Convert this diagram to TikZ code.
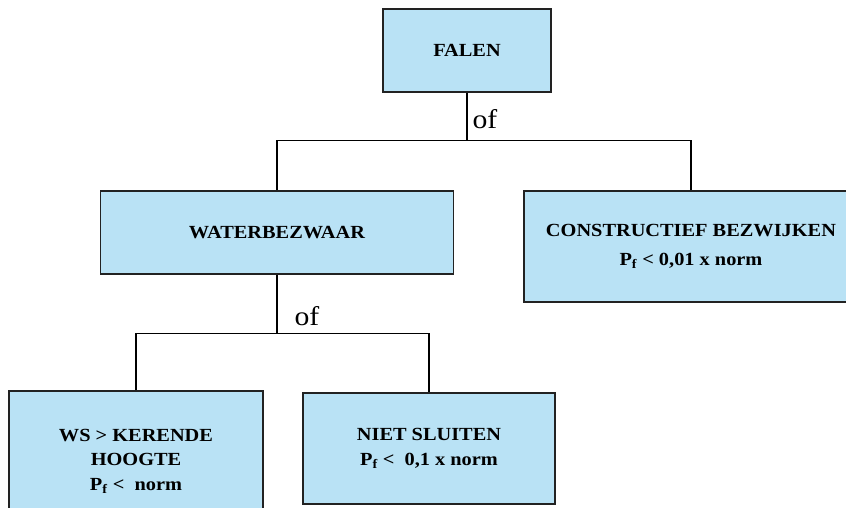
\documentclass[tikz,border=0pt]{standalone}
\usepackage{fontspec}
\setmainfont{Liberation Serif}[FakeStretch=1.1]
\usetikzlibrary{positioning}
\definecolor{BoxBlue}{HTML}{B9E2F5}
\definecolor{BoxEdge}{HTML}{222222}

\begin{document}
\begin{tikzpicture}[x=1pt, y=-1pt,
  every node/.style={font=\fontsize{18.5}{24.5}\selectfont\bfseries},
  box/.style={draw=BoxEdge, fill=BoxBlue, line width=1.2pt, align=center, inner sep=0pt},
  link/.style={draw=black, line width=1.2pt},
  ofl/.style={font=\fontsize{27}{30}\selectfont, anchor=base west, inner sep=0pt},
]
\useasboundingbox (0,0) rectangle (846,508);
\clip (0,0) rectangle (846,508);
% boxes
\node[box, minimum width=168, minimum height=83]  (falen)  at (467,50.5)  {FALEN};
\node[box, minimum width=353, minimum height=83]  (water)  at (277,232.5) {WATERBEZWAAR};
\node[box, minimum width=334, minimum height=111] (constr) at (691,246.5) {CONSTRUCTIEF BEZWIJKEN\\[5pt]P\textsubscript{f} < 0,01 x norm};
\node[box, minimum width=254, minimum height=140] (ws)     at (136,461)   {WS > KERENDE\\HOOGTE\\P\textsubscript{f} <\ \ norm};
\node[box, minimum width=252, minimum height=111] (niet)   at (429,448.5) {NIET SLUITEN\\P\textsubscript{f} <\ \ 0,1 x norm};
% junctions
\coordinate (j1) at ([yshift=-48pt]falen.south);
\coordinate (j2) at ([yshift=-59pt]water.south);
\draw[link] (falen) -- (j1) node[ofl, xshift=5pt, yshift=12pt] {of};
\draw[link] (water.north) |- (j1) -| (constr.north);
\draw[link] (water) -- (j2) node[ofl, xshift=17pt, yshift=8pt] {of};
\draw[link] (ws.north) |- (j2) -| (niet.north);
\end{tikzpicture}
\end{document}
